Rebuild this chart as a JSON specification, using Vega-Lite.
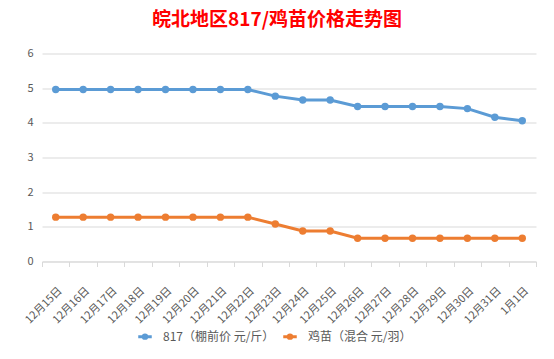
{
  "$schema": "https://vega.github.io/schema/vega-lite/v6.json",
  "width": 494,
  "height": 208,
  "autosize": {"type": "none"},
  "padding": {"left": 42, "top": 53.5, "right": 18, "bottom": 97.5},
  "background": "white",
  "title": {
    "text": "皖北地区817/鸡苗价格走势图",
    "color": "#FF0000",
    "fontSize": 19,
    "fontWeight": "bold",
    "font": "Noto Sans CJK SC",
    "anchor": "middle",
    "dx": -12,
    "offset": 18
  },
  "config": {
    "font": "Noto Sans CJK SC",
    "view": {"stroke": null}
  },
  "data": {
    "values": [
      {"date": "12月15日", "series": "817（棚前价 元/斤）", "value": 4.96},
      {"date": "12月16日", "series": "817（棚前价 元/斤）", "value": 4.96},
      {"date": "12月17日", "series": "817（棚前价 元/斤）", "value": 4.96},
      {"date": "12月18日", "series": "817（棚前价 元/斤）", "value": 4.96},
      {"date": "12月19日", "series": "817（棚前价 元/斤）", "value": 4.96},
      {"date": "12月20日", "series": "817（棚前价 元/斤）", "value": 4.96},
      {"date": "12月21日", "series": "817（棚前价 元/斤）", "value": 4.96},
      {"date": "12月22日", "series": "817（棚前价 元/斤）", "value": 4.96},
      {"date": "12月23日", "series": "817（棚前价 元/斤）", "value": 4.77},
      {"date": "12月24日", "series": "817（棚前价 元/斤）", "value": 4.66},
      {"date": "12月25日", "series": "817（棚前价 元/斤）", "value": 4.66},
      {"date": "12月26日", "series": "817（棚前价 元/斤）", "value": 4.47},
      {"date": "12月27日", "series": "817（棚前价 元/斤）", "value": 4.47},
      {"date": "12月28日", "series": "817（棚前价 元/斤）", "value": 4.47},
      {"date": "12月29日", "series": "817（棚前价 元/斤）", "value": 4.47},
      {"date": "12月30日", "series": "817（棚前价 元/斤）", "value": 4.41},
      {"date": "12月31日", "series": "817（棚前价 元/斤）", "value": 4.16},
      {"date": "1月1日", "series": "817（棚前价 元/斤）", "value": 4.06},
      {"date": "12月15日", "series": "鸡苗（混合 元/羽）", "value": 1.28},
      {"date": "12月16日", "series": "鸡苗（混合 元/羽）", "value": 1.28},
      {"date": "12月17日", "series": "鸡苗（混合 元/羽）", "value": 1.28},
      {"date": "12月18日", "series": "鸡苗（混合 元/羽）", "value": 1.28},
      {"date": "12月19日", "series": "鸡苗（混合 元/羽）", "value": 1.28},
      {"date": "12月20日", "series": "鸡苗（混合 元/羽）", "value": 1.28},
      {"date": "12月21日", "series": "鸡苗（混合 元/羽）", "value": 1.28},
      {"date": "12月22日", "series": "鸡苗（混合 元/羽）", "value": 1.28},
      {"date": "12月23日", "series": "鸡苗（混合 元/羽）", "value": 1.08},
      {"date": "12月24日", "series": "鸡苗（混合 元/羽）", "value": 0.88},
      {"date": "12月25日", "series": "鸡苗（混合 元/羽）", "value": 0.88},
      {"date": "12月26日", "series": "鸡苗（混合 元/羽）", "value": 0.67},
      {"date": "12月27日", "series": "鸡苗（混合 元/羽）", "value": 0.67},
      {"date": "12月28日", "series": "鸡苗（混合 元/羽）", "value": 0.67},
      {"date": "12月29日", "series": "鸡苗（混合 元/羽）", "value": 0.67},
      {"date": "12月30日", "series": "鸡苗（混合 元/羽）", "value": 0.67},
      {"date": "12月31日", "series": "鸡苗（混合 元/羽）", "value": 0.67},
      {"date": "1月1日", "series": "鸡苗（混合 元/羽）", "value": 0.67}
    ]
  },
  "mark": {
    "type": "line",
    "strokeWidth": 3,
    "point": {"filled": true, "size": 55, "opacity": 1}
  },
  "encoding": {
    "x": {
      "field": "date",
      "type": "nominal",
      "sort": ["12月15日","12月16日","12月17日","12月18日","12月19日","12月20日","12月21日","12月22日","12月23日","12月24日","12月25日","12月26日","12月27日","12月28日","12月29日","12月30日","12月31日","1月1日"],
      "scale": {"type": "band", "paddingInner": 0, "paddingOuter": 0},
      "axis": {
        "title": null,
        "labelAngle": -45,
        "labelFontSize": 11,
        "labelColor": "#595959",
        "domainColor": "#D9D9D9",
        "tickColor": "#D9D9D9",
        "tickBand": "extent",
        "tickSize": 5,
        "grid": false,
        "labelPadding": 18,
        "labelDx": -14
      }
    },
    "y": {
      "field": "value",
      "type": "quantitative",
      "scale": {"domain": [0, 6], "nice": false},
      "axis": {
        "title": null,
        "values": [0, 1, 2, 3, 4, 5, 6],
        "domain": false,
        "ticks": false,
        "gridColor": "#D9D9D9",
        "labelColor": "#595959",
        "labelFontSize": 11,
        "labelPadding": 9
      }
    },
    "color": {
      "field": "series",
      "type": "nominal",
      "scale": {"domain": ["817（棚前价 元/斤）", "鸡苗（混合 元/羽）"], "range": ["#5B9BD5", "#ED7D31"]},
      "legend": {
        "title": null,
        "orient": "none",
        "direction": "horizontal",
        "legendX": 88,
        "legendY": 268,
        "padding": 0,
        "symbolType": "M-0.5,0H0.5M-0.125,0A0.125,0.125,0,1,1,0.125,0A0.125,0.125,0,1,1,-0.125,0Z",
        "symbolSize": 729,
        "symbolStrokeWidth": 3,
        "labelFontSize": 12,
        "labelColor": "#595959",
        "labelOffset": 3,
        "columnPadding": 0
      }
    }
  }
}
